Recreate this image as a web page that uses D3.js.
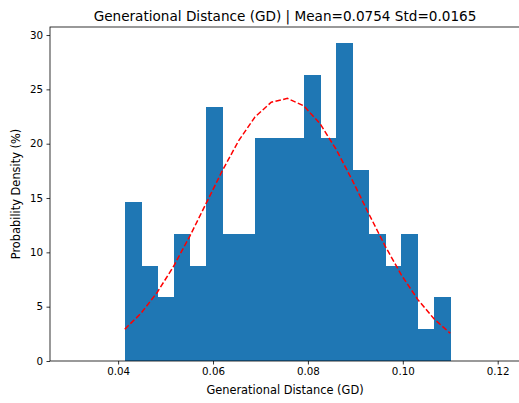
<!DOCTYPE html>
<html>
<head>
<meta charset="utf-8">
<title>Generational Distance (GD)</title>
<style>
    body { margin: 0; background: #fff; }
    text { font-family: "DejaVu Sans", sans-serif; fill: #000; }
</style>
</head>
<body>
<div class="plot_container"></div>
<script src="https://cdn.jsdelivr.net/npm/d3@7"></script>
<script type="text/javascript">
    // histogram: 20 bins, values are density
    var bin_start = 0.0414;
    var bin_width = 0.00343;
    var densities = [14.63, 8.78, 5.85, 11.71, 8.78, 23.41, 11.71, 11.71, 20.49, 20.49,
                     20.49, 26.34, 20.49, 29.27, 17.56, 11.71, 8.78, 11.71, 2.93, 5.85];
    // fitted normal curve, sampled at the bin edges
    var curve_values = [2.93, 4.40, 6.33, 8.72, 11.50, 14.51, 17.53, 20.28, 22.46, 23.81, 24.17,
                        23.48, 21.84, 19.45, 16.58, 13.53, 10.58, 7.91, 5.67, 3.88, 2.55];
    var x_ticks = [0.04, 0.06, 0.08, 0.10, 0.12];
    var y_ticks = [0, 5, 10, 15, 20, 25, 30];

    var width = 519;
    var height = 403;
    var margin = {left: 50, right: -1, top: 27, bottom: 42};

    var svg = d3.select(".plot_container").append("svg")
            .attr("width", width)
            .attr("height", height);

    var x = d3.scaleLinear()
            .domain([0.02564, 0.1247])
            .range([margin.left, width - margin.right]);
    var y = d3.scaleLinear()
            .domain([0, 30.74])
            .range([height - margin.bottom, margin.top]);

    svg.selectAll(".bar")
            .data(densities)
            .enter()
            .append("rect")
            .attr("class", "bar")
            .attr("x", function(d, i){ return x(bin_start + i * bin_width); })
            .attr("width", function(d, i){
                return x(bin_start + (i + 1) * bin_width) - x(bin_start + i * bin_width) + 0.5;
            })
            .attr("y", function(d){ return y(d); })
            .attr("height", function(d){ return y(0) - y(d); })
            .style("fill", "#1f77b4")
            .style("shape-rendering", "crispEdges");

    var line = d3.line()
            .x(function(d, i){ return x(bin_start + i * bin_width); })
            .y(function(d){ return y(d); });

    svg.append("path")
            .datum(curve_values)
            .attr("d", line)
            .style("fill", "none")
            .style("stroke", "red")
            .style("stroke-width", 1.5)
            .style("stroke-dasharray", "5.5,2.4");

    // spines
    svg.append("rect")
            .attr("x", margin.left)
            .attr("y", margin.top)
            .attr("width", width - margin.right - margin.left)
            .attr("height", height - margin.bottom - margin.top)
            .style("fill", "none")
            .style("stroke", "#000")
            .style("stroke-width", 0.8);

    var xAxis = svg.append("g")
            .attr("transform", "translate(0," + (height - margin.bottom) + ")")
            .call(d3.axisBottom(x).tickValues(x_ticks).tickFormat(d3.format(".2f"))
                    .tickSizeInner(3.5).tickSizeOuter(0).tickPadding(3.5));
    var yAxis = svg.append("g")
            .attr("transform", "translate(" + margin.left + ",0)")
            .call(d3.axisLeft(y).tickValues(y_ticks).tickFormat(d3.format("d"))
                    .tickSizeInner(3.5).tickSizeOuter(0).tickPadding(3.5));

    [xAxis, yAxis].forEach(function(g){
        g.select(".domain").remove();
        g.selectAll(".tick line").style("stroke", "#000").style("stroke-width", 0.8);
        g.selectAll(".tick text")
                .style("font-family", "DejaVu Sans")
                .style("font-size", "10.3px")
                .style("fill", "#000");
    });

    var cx = (margin.left + width - margin.right) / 2;

    svg.append("text")
            .attr("x", cx)
            .attr("y", 21)
            .attr("text-anchor", "middle")
            .style("font-size", "13.6px")
            .text("Generational Distance (GD) | Mean=0.0754 Std=0.0165");

    svg.append("text")
            .attr("x", cx)
            .attr("y", 394)
            .attr("text-anchor", "middle")
            .style("font-size", "11.4px")
            .text("Generational Distance (GD)");

    svg.append("text")
            .attr("transform", "translate(20," + ((margin.top + height - margin.bottom) / 2) + ") rotate(-90)")
            .attr("text-anchor", "middle")
            .style("font-size", "11.4px")
            .text("Probability Density (%)");
</script>
</body>
</html>
